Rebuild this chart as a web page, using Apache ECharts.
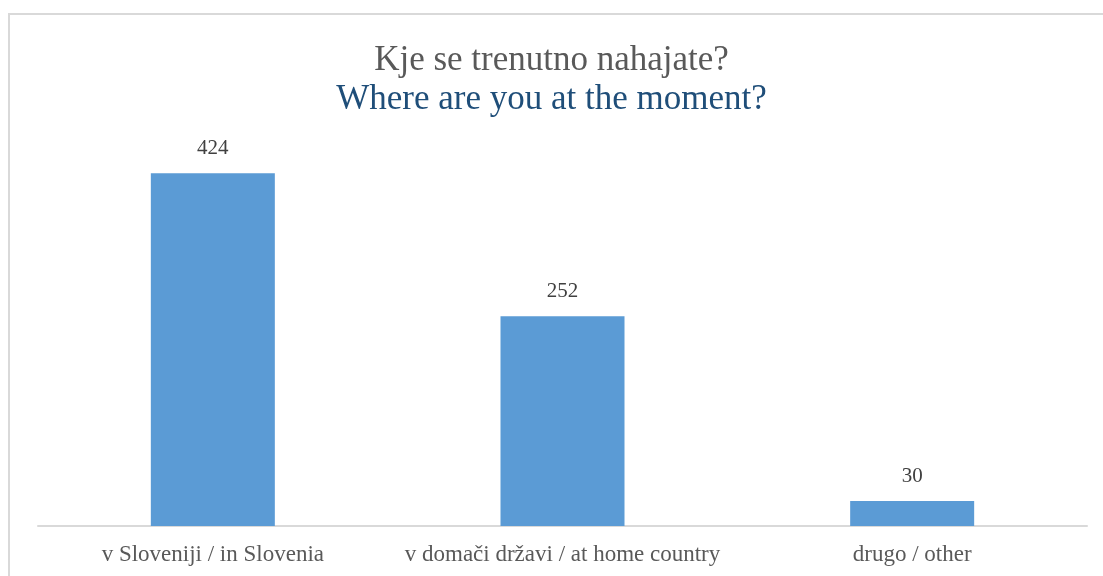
<!DOCTYPE html>
<html>
<head>
<meta charset="utf-8">
<script src="https://cdn.jsdelivr.net/npm/echarts@6/dist/echarts.min.js"></script>
<style>
  html, body { margin: 0; padding: 0; background: #fff; }
  #chart { width: 1103px; height: 576px; }
</style>
</head>
<body>
<div id="chart"></div>
<script>
const categories = ['v Sloveniji / in Slovenia', 'v domači državi / at home country', 'drugo / other'];
const counts = [424, 252, 30];

const chart = echarts.init(document.getElementById('chart'));
const serif = '"Liberation Serif", "DejaVu Serif", serif';

const option = {
    animation: false,
    backgroundColor: '#fff',
    graphic: [
        {
            type: 'rect',
            shape: { x: 9, y: 14, width: 1120, height: 600 },
            style: { fill: 'none', stroke: '#d9d9d9', lineWidth: 2 },
            silent: true
        }
    ],
    title: [
        {
            left: 'center',
            top: 43,
            padding: 0,
            text: 'Kje se trenutno nahajate?',
            textStyle: { fontFamily: serif, fontSize: 35, fontWeight: 'normal', color: '#595959' }
        },
        {
            left: 'center',
            top: 82,
            padding: 0,
            text: 'Where are you at the moment?',
            textStyle: { fontFamily: serif, fontSize: 35, fontWeight: 'normal', color: '#1f4e79' }
        }
    ],
    grid: {
        left: 38,
        right: 16,
        bottom: 50,
        top: 110
    },
    xAxis: {
        type: 'category',
        data: categories,
        axisLine: { lineStyle: { color: '#d9d9d9', width: 2 } },
        axisTick: { show: false },
        axisLabel: {
            interval: 0,
            fontFamily: serif,
            fontSize: 23,
            color: '#595959',
            margin: 17
        }
    },
    yAxis: {
        type: 'value',
        min: 0,
        max: 500,
        show: false,
        splitLine: { show: false }
    },
    series: [
        {
            type: 'bar',
            data: counts,
            barWidth: 124,
            itemStyle: { color: '#5b9bd5' },
            label: {
                show: true,
                position: 'top',
                distance: 14,
                fontFamily: serif,
                fontSize: 21,
                color: '#404040'
            }
        }
    ]
};
chart.setOption(option);
</script>
</body>
</html>
